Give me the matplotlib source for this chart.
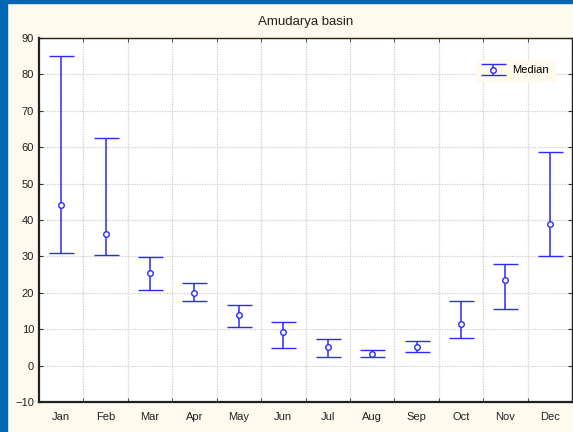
import numpy as np
import matplotlib
matplotlib.use("Agg")
import matplotlib.pyplot as plt
from matplotlib.patches import Rectangle

# Monthly values
months = ["Jan", "Feb", "Mar", "Apr", "May", "Jun",
          "Jul", "Aug", "Sep", "Oct", "Nov", "Dec"]
median = [44.1, 36.1, 25.4, 20.0, 14.0, 9.3, 5.2, 3.2, 5.1, 11.5, 23.6, 38.8]
upper = [85.1, 62.5, 29.8, 22.8, 16.6, 12.1, 7.3, 4.4, 6.8, 17.8, 27.8, 58.7]
lower = [30.8, 30.5, 20.8, 17.7, 10.6, 4.9, 2.5, 2.45, 3.8, 7.6, 15.6, 30.1]
yticks = [-10, 0, 10, 20, 30, 40, 50, 60, 70, 80, 90]

plt.rcParams["font.family"] = ["Liberation Sans", "DejaVu Sans"]

bg = "#fff9ee"
blue = "#2a2aff"

fig = plt.figure(figsize=(5.73, 4.32), dpi=100, facecolor=bg)
ax = fig.add_axes([39 / 573, 1 - 402 / 432, 533 / 573, 364 / 432])

x = np.arange(1, len(months) + 1)
med = np.array(median)
err = [med - np.array(lower), np.array(upper) - med]
ax.errorbar(x, med, yerr=err, fmt="o", color=blue, ecolor=blue,
            elinewidth=1.1, capsize=9, capthick=1.1, markersize=4,
            markerfacecolor="white", markeredgecolor=blue,
            markeredgewidth=1.0, label="Median", zorder=3)

ax.set_xlim(0.5, 12.5)
ax.set_ylim(-10, 90)
ax.set_yticks(yticks)
ax.set_xticks(x)
ax.set_xticklabels(months)
ax.set_xticks(np.arange(0.5, 13, 1), minor=True)

grid_style = dict(color="#cfcfcf", linestyle=(0, (1, 1)), linewidth=0.9)
ax.grid(True, which="minor", axis="x", **grid_style)
ax.grid(True, which="major", axis="y", **grid_style)
ax.tick_params(axis="x", which="major", length=0, labelsize=8, pad=7, colors="#222222")
ax.tick_params(axis="x", which="minor", direction="in", length=3, top=True, color="#333333")
ax.tick_params(axis="y", direction="in", length=3, right=True, labelsize=8,
               labelcolor="#222222", color="#333333")
for s in ax.spines.values():
    s.set_color("#222222")
    s.set_linewidth(1.0)
ax.spines["bottom"].set_linewidth(1.6)
ax.spines["left"].set_linewidth(1.6)

ax.set_title("Amudarya basin", fontsize=9.5, pad=9, color="#222222")

leg = ax.legend(loc="upper right", bbox_to_anchor=(0.966, 0.94), fontsize=8,
                frameon=True, fancybox=False, borderpad=0.5, handlelength=2.0,
                handletextpad=0.7, borderaxespad=0)
leg.get_frame().set_facecolor(bg)
leg.get_frame().set_edgecolor(bg)
leg.get_frame().set_alpha(1)

# blue window frame on top and left
fig.patches.append(Rectangle((0, 0), 7 / 573, 1, transform=fig.transFigure,
                             color="#0066b3", zorder=10))
fig.patches.append(Rectangle((0, 1 - 3 / 432), 1, 3 / 432, transform=fig.transFigure,
                             color="#0066b3", zorder=10))

fig.savefig("out.png", dpi=100, facecolor=bg)
